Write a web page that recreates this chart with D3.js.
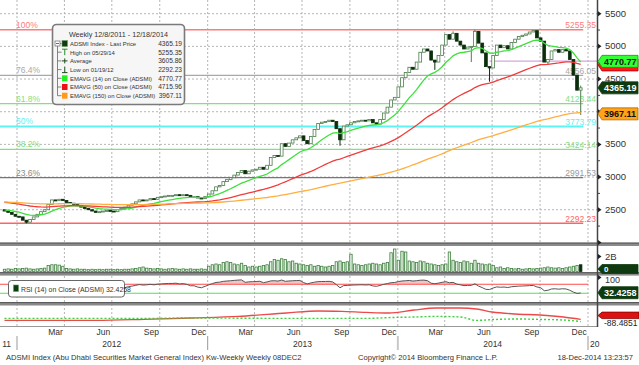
<!DOCTYPE html>
<html><head><meta charset="utf-8">
<script src="https://cdn.jsdelivr.net/npm/d3@7/dist/d3.min.js"></script>
<style>
html,body{margin:0;padding:0;background:#fff;}
svg{display:block;}
text{font-family:"Liberation Sans",Arial,sans-serif;}
.nar{font-family:"Liberation Sans Narrow","Arial Narrow","Liberation Sans",Arial,sans-serif;}
</style></head><body>
<svg id="chart" width="639" height="365"></svg>
<script>
// ---------------- DATA ----------------
const firstWeek = "2011-12-08";
const firstOpen = 2500;
const closes = [
2480,2460,2430,2400,2390,2340,2310,2350,2390,2430,
2470,2500,2580,2650,2640,2660,2640,2610,2600,2580,
2560,2540,2520,2500,2480,2460,2470,2480,2490,2480,
2470,2500,2520,2540,2570,2590,2620,2650,2640,2650,
2670,2660,2690,2700,2710,2720,2720,2730,2720,2730,
2720,2700,2700,2680,2670,2700,2740,2790,2850,2870,
2930,2960,2990,3030,3070,3100,3050,3090,3110,3120,
3150,3120,3180,3300,3330,3320,3510,3470,3520,3570,
3600,3630,3560,3510,3620,3730,3820,3840,3850,3870,
3850,3740,3570,3780,3800,3830,3850,3860,3870,3860,
3880,3830,3810,3880,3980,4070,4180,4220,4380,4520,
4600,4680,4650,4760,4910,4960,4930,4790,4760,4860,
5020,5180,5110,5200,5080,5020,4960,4990,5000,5230,
5050,4900,4690,4670,4860,5020,4980,5010,4960,5060,
5110,5150,5170,5190,5220,5240,5130,5080,4760,4800,
4930,4950,4910,4950,4930,4800,4560,4330,4365.19];
// notable wicks: [week index, value]
const wickHighs = [[123,5230],[129,5255.35],[145,5250],[158,4400]];
const wickLows  = [[6,2292.23],[92,3480],[118,4640],[128,4760],[133,4460],[149,4720],[158,3950]];
// weekly volume, billions
const volumes = [
0.30,0.35,0.30,0.40,0.35,0.40,0.45,0.35,0.30,0.35,
0.40,0.45,0.80,0.90,0.90,0.85,0.70,0.40,0.35,0.30,
0.35,0.30,0.30,0.25,0.30,0.25,0.30,0.25,0.30,0.30,
0.25,0.30,0.25,0.30,0.30,0.35,0.40,0.50,0.60,0.45,
0.40,0.35,0.40,0.35,0.30,0.35,0.40,0.35,0.30,0.35,
0.30,0.35,0.30,0.30,0.35,0.30,0.70,0.90,1.00,0.90,
1.20,1.30,1.20,1.00,0.90,1.10,0.80,0.60,0.70,0.60,
0.70,0.80,0.90,1.30,1.60,1.50,1.70,1.60,1.30,1.40,
1.10,1.00,0.90,0.80,0.90,0.70,0.80,0.70,0.60,0.70,
0.80,1.30,1.40,1.20,1.30,2.30,1.00,0.90,0.80,0.90,
1.00,1.10,1.00,0.90,1.10,1.20,2.50,3.00,1.50,2.70,
2.60,1.40,1.30,1.20,1.40,1.30,1.10,1.00,0.90,0.80,
0.90,1.00,2.60,1.50,1.30,1.20,1.40,1.30,1.10,1.50,
1.10,1.00,0.90,1.00,0.80,0.50,0.60,0.40,0.50,0.40,
0.35,0.40,0.30,0.35,0.40,0.35,0.40,0.45,0.50,0.60,
0.50,0.45,0.50,0.40,0.50,0.60,0.70,0.80,0.90];
const emaPeriods = [14, 50, 150];
const emaSeeds = [2500, 2620, 2620];
const rsiPeriod = 14;
const highValue = 5255.35, lowValue = 2292.23;
const fibPcts  = [1, 0.764, 0.618, 0.5, 0.382, 0.236, 0];
const fibNames = ["100%", "76.4%", "61.8%", "50%", "38.2%", "23.6%", ""];
const priceTicks = [2500, 3000, 3500, 4000, 4500, 5000, 5500];
const legendTitle = "Weekly 12/8/2011 - 12/18/2014";
const legendLabels = ["ADSMI Index - Last Price","High on 05/29/14","Average","Low on 01/19/12",
  "EMAVG (14) on Close (ADSMI)","EMAVG (50) on Close (ADSMI)","EMAVG (150) on Close (ADSMI)"];
const legendValues = [4365.19, 5255.35, 3605.86, 2292.23, 4770.77, 4715.96, 3967.11];
const rsiLast = 32.4258;
const levelLine = {from:"2014-06-26", value:4775};
// third study panel (sampled)
const p3Dates = ["2011-12-08","2012-03-01","2012-06-01","2012-09-01","2012-12-01","2013-03-01","2013-06-01","2013-08-01","2013-09-15","2013-11-01","2013-12-15","2014-02-01","2014-03-15","2014-05-01","2014-06-01","2014-07-01","2014-08-15","2014-10-01","2014-11-15","2014-12-18"];
const p3Red   = [-72,-72,-72,-67,-60,-52,-35,-25,-27,-32,-35,-20,-10,-10,-15,-30,-40,-45,-55,-67];
const p3Green = [-62,-62,-62,-62,-60,-61,-62,-62,-62,-62,-58,-55,-52,-55,-72,-68,-65,-67,-70,-78];
const p3RedFlag = -48;
const p3Last = "-88.4851";
const footLeft = "ADSMI Index (Abu Dhabi Securities Market General Index) Kw-Weekly  Weekly 08DEC2";
const footMid = "Copyright\u00A9 2014 Bloomberg Finance L.P.";
const footRight = "18-Dec-2014 13:23:57";

// ---------------- STYLE / LAYOUT ----------------
const C = {up:"#4d7d4d", down:"#0b2d0b", ema:["#3ee03e","#f03c3c","#ffae40"],
  fib:["#ff7b7b","#a9a9a9","#84e084","#5ff2f2","#84e084","#777777","#ff6464"],
  grid:"#b5b5b5", text:"#333"};
const W = 639, RX = 597;
const parse = d3.utcParse("%Y-%m-%d");
const svg = d3.select("#chart");
const dates = closes.map((_, i) => d3.utcDay.offset(parse(firstWeek), 7 * i));
const opens = closes.map((c, i) => i === 0 ? firstOpen : closes[i - 1]);
const hiMap = new Map(wickHighs), loMap = new Map(wickLows);
const highs = closes.map((c, i) => Math.max(c, opens[i], hiMap.get(i) ?? -Infinity));
const lows  = closes.map((c, i) => Math.min(c, opens[i], loMap.get(i) ?? Infinity));

const x = d3.scaleUtc().domain([parse("2012-01-01"), parse("2015-01-01")]).range([17, 588]);
const y = d3.scaleLinear().domain([2000, 5500]).range([242.4, 13.7]);
const yv = d3.scaleLinear().domain([0, 2]).range([271.5, 256.5]);
const yr = d3.scaleLinear().domain([0, 100]).range([300, 277.5]);
const y3 = d3.scaleLinear().domain([-100, 0]).range([326, 306]);

const defs = svg.append("defs");
defs.append("clipPath").attr("id","plot").append("rect").attr("x",0).attr("y",0).attr("width",RX).attr("height",330);

// ---- calculations ----
function ema(vals, n, seed){ const a = 2/(n+1); let e = seed; return vals.map(v => (e = e + a*(v - e))); }
function rsi(vals, n){
  const out = vals.map(() => null); let g = 0, l = 0;
  for (let i = 1; i <= n; i++){ const d = vals[i]-vals[i-1]; g += Math.max(d,0); l += Math.max(-d,0); }
  g /= n; l /= n; out[n] = 100 - 100/(1 + g/l);
  for (let i = n+1; i < vals.length; i++){ const d = vals[i]-vals[i-1];
    g = (g*(n-1) + Math.max(d,0))/n; l = (l*(n-1) + Math.max(-d,0))/n; out[i] = 100 - 100/(1 + g/l); }
  return out;
}
const emas = emaPeriods.map((p, k) => ema(closes, p, emaSeeds[k]));
const rsis = rsi(closes, rsiPeriod);

// ---- grid ----
const grid = svg.append("g").attr("clip-path","url(#plot)");
grid.selectAll(".hg").data(priceTicks).join("line")
  .attr("x1",0).attr("x2",RX).attr("y1",d=>y(d)).attr("y2",d=>y(d))
  .attr("stroke",C.grid).attr("stroke-dasharray","2,2");
const quarters = d3.utcMonth.every(3).range(parse("2012-01-01"), parse("2015-01-02"));
grid.selectAll(".vg").data(quarters).join("line")
  .attr("x1",d=>x(d)).attr("x2",d=>x(d)).attr("y1",0).attr("y2",326)
  .attr("stroke",C.grid).attr("stroke-dasharray","2,2");

// ---- fib lines ----
const fibVals = fibPcts.map(p => lowValue + p*(highValue - lowValue));
const lineEnd = x(dates[dates.length-1]) + 2.5;
const fibG = svg.append("g");
fibG.selectAll("line").data(fibVals).join("line")
  .attr("x1",0).attr("x2",lineEnd).attr("y1",d=>y(d)).attr("y2",d=>y(d))
  .attr("stroke",(d,i)=>C.fib[i]).attr("stroke-width",(d,i)=> i===3 ? 2 : 1.4);
svg.append("line").attr("x1",x(parse(levelLine.from))).attr("x2",RX)
  .attr("y1",y(levelLine.value)).attr("y2",y(levelLine.value)).attr("stroke","#d4a6e0").attr("stroke-width",1.2);

// ---- candles ----
const cg = svg.append("g").attr("clip-path","url(#plot)");
const bw = 2.8;
closes.forEach((c, i) => {
  const o = opens[i], up = c >= o, col = up ? C.up : C.down, cx = x(dates[i]);
  cg.append("line").attr("x1",cx).attr("x2",cx).attr("y1",y(highs[i])).attr("y2",y(lows[i])).attr("stroke",col).attr("stroke-width",1);
  const top = y(Math.max(o,c)), h = Math.max(1, y(Math.min(o,c)) - top);
  cg.append("rect").attr("x",cx-bw/2).attr("y",top).attr("width",bw).attr("height",h)
    .attr("fill", up ? "#fff" : C.down).attr("stroke",col).attr("stroke-width",0.8);
});

// ---- EMAs ----
const eg = svg.append("g").attr("clip-path","url(#plot)");
emas.forEach((e, k) => {
  eg.append("path").datum(e).attr("fill","none").attr("stroke",C.ema[k]).attr("stroke-width",1.3)
    .attr("d", d3.line().x((d,i)=>x(dates[i])).y(d=>y(d)));
});

// ---- fib labels ----
fibG.selectAll(".fl").data(fibVals).join("text").attr("class","nar")
  .attr("x",16).attr("y",d=>y(d)-2).attr("font-size",8.5).attr("fill",(d,i)=>C.fib[i]==="#777777"?"#888":C.fib[i])
  .text((d,i)=>fibNames[i]);
fibG.selectAll(".fr").data(fibVals).join("text").attr("class","nar")
  .attr("x",RX-1).attr("y",d=>y(d)-1.5).attr("text-anchor","end").attr("font-size",8.5)
  .attr("fill",(d,i)=>C.fib[i]==="#777777"?"#999":C.fib[i]).text(d=>d.toFixed(2));

// ---- legend ----
const lg = svg.append("g");
lg.append("rect").attr("x",52.5).attr("y",24.5).attr("width",132).attr("height",80).attr("rx",4)
  .attr("fill","#f6f6f6").attr("stroke","#7a7a7a").attr("stroke-width",1.6);
lg.append("text").attr("x",118.5).attr("y",37).attr("text-anchor","middle").attr("font-size",7.2).attr("fill","#333").text(legendTitle);
const rowY = i => 43.5 + i*8.7;
lg.append("line").attr("x1",57.5).attr("x2",57.5).attr("y1",rowY(0)).attr("y2",rowY(6)).attr("stroke","#666").attr("stroke-width",0.8);
legendLabels.forEach((t, i) => {
  const cy = rowY(i);
  lg.append("line").attr("x1",57.5).attr("x2",61.5).attr("y1",cy).attr("y2",cy).attr("stroke","#666").attr("stroke-width",0.8);
  const ic = lg.append("g");
  if (i === 0 || i >= 4) {
    const fills = ["#0d3d0d",null,null,null,"#22ee22","#ee1111","#ff9a1a"];
    ic.append("rect").attr("x",62).attr("y",cy-3).attr("width",5.5).attr("height",6).attr("fill",fills[i]).attr("stroke",i===0?"#6a9a6a":"none").attr("stroke-width",0.6);
  } else if (i === 1) {
    ic.append("path").attr("d",`M62,${cy-3}H67.5M64.75,${cy-3}V${cy+3}`).attr("stroke","#2c8c2c").attr("stroke-width",1).attr("fill","none");
  } else if (i === 2) {
    ic.append("path").attr("d",`M62,${cy}H67.5M64.75,${cy-2.5}V${cy+2.5}`).attr("stroke","#1c4c1c").attr("stroke-width",1).attr("fill","none");
  } else {
    ic.append("path").attr("d",`M62,${cy+3}H67.5M64.75,${cy-3}V${cy+3}`).attr("stroke","#1c4c1c").attr("stroke-width",1).attr("fill","none");
  }
  lg.append("text").attr("x",70).attr("y",cy+2.4).attr("font-size",5.9).attr("fill","#333").text(t);
  lg.append("text").attr("x",182).attr("y",cy+2.4).attr("text-anchor","end").attr("font-size",6.6).attr("fill","#333").text(legendValues[i].toFixed(2));
});
lg.append("rect").attr("x",55).attr("y",rowY(0)-2.5).attr("width",5).attr("height",5).attr("fill","#fff").attr("stroke","#666").attr("stroke-width",0.7);
lg.append("line").attr("x1",56).attr("x2",59).attr("y1",rowY(0)).attr("y2",rowY(0)).attr("stroke","#444").attr("stroke-width",0.8);

// ---- volume ----
const vg = svg.append("g").attr("clip-path","url(#plot)");
volumes.forEach((v, i) => {
  const cx = x(dates[i]), last = i === volumes.length-1;
  vg.append("rect").attr("x",cx-1.2).attr("y",yv(v)).attr("width",2.4).attr("height",yv(0)-yv(v))
    .attr("fill", last ? "#0b2d0b" : "#e4f2e4").attr("stroke", last ? "#0b2d0b" : "#3f803f").attr("stroke-width",0.8);
});

// ---- RSI ----
const rg = svg.append("g").attr("clip-path","url(#plot)");
const rsiDef = d3.line().defined(d=>d!==null).x((d,i)=>x(dates[i])).y(d=>yr(d));
rg.append("path").datum(rsis).attr("fill","#f4b4b4").attr("opacity",0.8)
  .attr("d", d3.area().defined(d=>d!==null).x((d,i)=>x(dates[i])).y0(yr(70)).y1(d=>yr(Math.max(70,d))));
rg.append("line").attr("x1",0).attr("x2",lineEnd+5).attr("y1",yr(70)).attr("y2",yr(70)).attr("stroke","#ff4a4a").attr("stroke-width",1.2);
rg.append("line").attr("x1",0).attr("x2",lineEnd+5).attr("y1",yr(30)).attr("y2",yr(30)).attr("stroke","#55e055").attr("stroke-width",1.2);
rg.append("path").datum(rsis).attr("fill","none").attr("stroke","#555").attr("stroke-width",1).attr("d",rsiDef);
svg.append("rect").attr("x",8.5).attr("y",280.5).attr("width",116).attr("height",16.5).attr("rx",3)
  .attr("fill","#fff").attr("stroke","#666").attr("stroke-width",1);
svg.append("rect").attr("x",13.5).attr("y",285).attr("width",5).attr("height",6.5).attr("fill","#0d3d0d").attr("stroke","#6a9a6a").attr("stroke-width",0.6);
svg.append("text").attr("x",21).attr("y",291.5).attr("font-size",6.9).attr("fill","#333").text(`RSI (14) on Close (ADSMI) ${rsiLast}`);

// ---- third panel ----
const pg = svg.append("g").attr("clip-path","url(#plot)");
const p3d = p3Dates.map(parse);
pg.append("path").datum(p3Red).attr("fill","none").attr("stroke","#ec4a4a").attr("stroke-width",1.3)
  .attr("d", d3.line().curve(d3.curveMonotoneX).x((d,i)=>x(p3d[i])).y(d=>y3(d)));
pg.append("path").datum(p3Green).attr("fill","none").attr("stroke","#33d433").attr("stroke-width",1.4).attr("stroke-dasharray","2,2")
  .attr("d", d3.line().curve(d3.curveMonotoneX).x((d,i)=>x(p3d[i])).y(d=>y3(d)));

// ---- separators ----
[242.6, 272.2, 302.1].forEach(b => {
  svg.append("rect").attr("x",0).attr("y",b).attr("width",W).attr("height",3.4).attr("fill","#8a8a8a");
  svg.append("line").attr("x1",0).attr("x2",W).attr("y1",b+0.5).attr("y2",b+0.5).attr("stroke","#555");
});
svg.append("line").attr("x1",0).attr("x2",RX).attr("y1",326.5).attr("y2",326.5).attr("stroke","#999");
svg.append("line").attr("x1",RX+0.5).attr("x2",RX+0.5).attr("y1",0).attr("y2",327).attr("stroke","#444").attr("stroke-width",1.5);

// ---- right axis ----
const ax = svg.append("g");
function tri(yy){ ax.append("path").attr("d",`M${RX+1},${yy-2.5}L${RX+4.5},${yy}L${RX+1},${yy+2.5}Z`).attr("fill","#222"); }
d3.range(2000, 5751, 250).forEach(v => {
  if (v % 500 === 0) tri(y(v));
  else ax.append("line").attr("x1",RX).attr("x2",RX+3).attr("y1",y(v)).attr("y2",y(v)).attr("stroke","#444");
});
const flagVals = [legendValues[0], legendValues[4], legendValues[5], legendValues[6]];
const visibleTicks = priceTicks.filter(t => flagVals.every(f => Math.abs(y(t) - y(f)) > 8));
ax.selectAll(".pt").data(visibleTicks).join("text").attr("x",605).attr("y",d=>y(d)+3)
  .attr("font-size",9.5).attr("fill",C.text).text(d=>d);
function flag(yy, txt, bg, fg, tc, hh, fs){
  const h = hh || 6;
  const g = svg.append("g");
  g.append("path").attr("d",`M${RX+1},${yy}L${RX+5},${yy-h}H${W-1}V${yy+h}H${RX+5}Z`).attr("fill",bg).attr("stroke",fg).attr("stroke-width",0.8);
  if (txt) g.append("text").attr("x",604).attr("y",yy+3.2).attr("font-size",fs||9).attr("font-weight","bold").attr("fill",tc).text(txt);
}
flag(y(legendValues[5]), null, "#ff1a1a", "#aa0000", "#ff1a1a");
flag(y(legendValues[4]), legendValues[4].toFixed(2), "#33ff33", "#119911", "#111");
flag(y(legendValues[0]), legendValues[0].toFixed(2), "#0f3a0f", "#0f3a0f", "#fff");
flag(y(legendValues[6]), legendValues[6].toFixed(2), "#ffa31a", "#b06a00", "#111");
tri(yv(2)); ax.append("text").attr("x",605).attr("y",yv(2)+3.5).attr("font-size",9.5).attr("fill",C.text).text("2B");
flag(yv(0)-2.5, "0", "#0f3a0f", "#0f3a0f", "#fff", 4.5, 8);
tri(yr(100)); ax.append("text").attr("x",605).attr("y",283.2).attr("font-size",9).attr("fill",C.text).text("100");
flag(yr(rsiLast), rsiLast.toFixed(4), "#0f3a0f", "#0f3a0f", "#fff");
svg.append("path").attr("d",`M${RX+1},${y3(p3RedFlag)}L${RX+5},${y3(p3RedFlag)-3.5}H${W}V${y3(p3RedFlag)+3}H${RX+5}Z`).attr("fill","#dd1111").attr("stroke","#880000").attr("stroke-width",0.8);
svg.append("text").attr("x",604).attr("y",325.5).attr("font-size",8.5).attr("fill","#222").text(p3Last);

// ---- x axis ----
const monthTicks = d3.utcMonth.range(parse("2012-01-01"), parse("2015-01-01")).filter(d => d.getUTCMonth() % 3 === 2);
svg.selectAll(".ml").data(monthTicks).join("text").attr("class","nar")
  .attr("x",d=>x(d3.utcDay.offset(d,14))).attr("y",335).attr("text-anchor","middle").attr("font-size",8.5).attr("fill",C.text)
  .text(d3.utcFormat("%b"));
const yearStarts = d3.utcYear.range(parse("2012-01-01"), parse("2015-01-02"));
svg.selectAll(".ys").data(yearStarts).join("line").attr("x1",d=>x(d)).attr("x2",d=>x(d)).attr("y1",336).attr("y2",350)
  .attr("stroke",(d,i)=> i===2 ? "#c8c8c8" : "#999").attr("stroke-width",(d,i)=> i===2 ? 2 : 1);
const yearLabels = d3.utcYear.range(parse("2011-01-01"), parse("2015-01-02"));
const fy = d3.utcFormat("%Y");
svg.selectAll(".yl").data(yearLabels).join("text").attr("class","nar")
  .attr("x",d=>{ const yy = d.getUTCFullYear(); if (yy===2011) return x(parse("2012-01-01"))-6; if (yy===2015) return x(d)+2; return x(d3.utcDay.offset(d,182)); })
  .attr("text-anchor",d=> d.getUTCFullYear()===2011 ? "end" : d.getUTCFullYear()===2015 ? "start" : "middle")
  .attr("y",347).attr("font-size",8.5).attr("fill",C.text)
  .text(d=>{ const yy = d.getUTCFullYear(); const s = fy(d); return yy===2011 ? s.slice(2) : yy===2015 ? s.slice(0,2) : s; });

// ---- footer ----
svg.append("text").attr("x",6).attr("y",360).attr("font-size",7.6).attr("fill","#333").text(footLeft);
svg.append("text").attr("x",358).attr("y",360).attr("font-size",7.6).attr("fill","#333").text(footMid);
svg.append("text").attr("x",633).attr("y",360).attr("text-anchor","end").attr("font-size",7.6).attr("fill","#333").text(footRight);
</script>
</body></html>
